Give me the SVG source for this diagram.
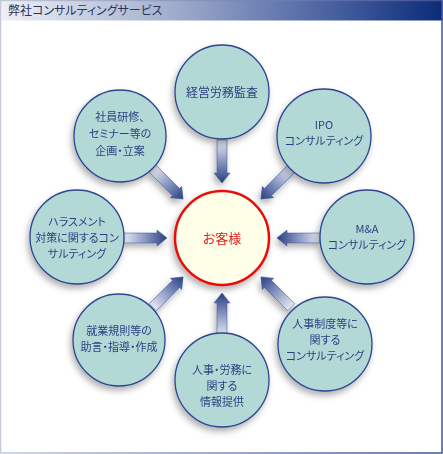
<svg xmlns="http://www.w3.org/2000/svg" width="443" height="454" viewBox="0 0 443 454">
<style>
  text { font-family: "Noto Sans CJK JP", "Noto Sans", sans-serif; font-feature-settings: "palt"; }
  .lbl { font-size: 11px; fill: #2b3f80; text-anchor: middle; }
  .node { fill: #b3d9d6; stroke: #2d4490; stroke-width: 1.3; }
  .arrow { fill: url(#arrGrad); stroke: #3a4f92; stroke-width: 0.5; }
</style>
<defs>
  <linearGradient id="barGrad" x1="0" y1="0" x2="1" y2="0">
    <stop offset="0" stop-color="#eef0f6"/>
    <stop offset="0.35" stop-color="#a9b5d1"/>
    <stop offset="0.7" stop-color="#546ba6"/>
    <stop offset="1" stop-color="#0b2b7a"/>
  </linearGradient>
  <linearGradient id="frameGrad" x1="0" y1="0" x2="1" y2="0">
    <stop offset="0" stop-color="#c3c9d8"/>
    <stop offset="0.5" stop-color="#7f8dba"/>
    <stop offset="1" stop-color="#3f5196"/>
  </linearGradient>
  <linearGradient id="arrGrad" gradientUnits="userSpaceOnUse" x1="-98" y1="0" x2="-55" y2="0">
    <stop offset="0" stop-color="#e6e9f2"/>
    <stop offset="0.5" stop-color="#8896c2"/>
    <stop offset="1" stop-color="#26407f"/>
  </linearGradient>
  <filter id="shadow" x="-30%" y="-30%" width="160%" height="160%">
    <feDropShadow dx="-2" dy="4" stdDeviation="3" flood-color="#000" flood-opacity="0.3"/>
  </filter>
  <path id="arr" d="M-98,-5 L-65,-5 L-65,-8 L-55,0 L-65,8 L-65,5 L-98,5 Z"/>
</defs>

<rect x="0" y="0" width="443" height="454" fill="#ffffff"/>
<g id="title">
  <rect x="0.5" y="0.5" width="442" height="20" fill="url(#barGrad)"/>
  <text x="8" y="15" style="font-size:12px;fill:#2a355e;">弊社コンサルティングサービス</text>
</g>
<rect x="0.5" y="0.5" width="441.5" height="452.5" fill="none" stroke="url(#frameGrad)" stroke-width="1.5"/>

<g id="connectors" filter="url(#shadow)">
  <use href="#arr" class="arrow" transform="translate(222,238) rotate(0)"/>
  <use href="#arr" class="arrow" transform="translate(222,238) rotate(45)"/>
  <use href="#arr" class="arrow" transform="translate(222,238) rotate(90)"/>
  <use href="#arr" class="arrow" transform="translate(222,238) rotate(135)"/>
  <use href="#arr" class="arrow" transform="translate(222,238) rotate(180)"/>
  <use href="#arr" class="arrow" transform="translate(222,238) rotate(225)"/>
  <use href="#arr" class="arrow" transform="translate(222,238) rotate(270)"/>
  <use href="#arr" class="arrow" transform="translate(222,238) rotate(315)"/>
</g>

<g id="center">
  <circle cx="222" cy="238" r="47" fill="#fffee6" stroke="#e81010" stroke-width="2.5" filter="url(#shadow)"/>
  <text x="222" y="243" style="font-size:13px;fill:#e02020;text-anchor:middle;">お客様</text>
</g>

<g id="n-top">
  <circle class="node" cx="222" cy="92" r="47" filter="url(#shadow)"/>
  <text class="lbl" x="222" y="97" style="font-size:12px;">経営労務監査</text>
</g>

<g id="n-topleft">
  <circle class="node" cx="120" cy="136" r="46" filter="url(#shadow)"/>
  <text class="lbl" x="120" y="121">社員研修、</text>
  <text class="lbl" x="120" y="138">セミナー等の</text>
  <text class="lbl" x="120" y="155">企画・立案</text>
</g>

<g id="n-topright">
  <circle class="node" cx="324" cy="136" r="47" filter="url(#shadow)"/>
  <text class="lbl" x="324" y="129">IPO</text>
  <text class="lbl" x="324" y="145">コンサルティング</text>
</g>

<g id="n-left">
  <circle class="node" cx="77" cy="237" r="47" filter="url(#shadow)"/>
  <text class="lbl" x="77" y="226">ハラスメント</text>
  <text class="lbl" x="77" y="242">対策に関するコン</text>
  <text class="lbl" x="77" y="258">サルティング</text>
</g>

<g id="n-right">
  <circle class="node" cx="367" cy="237" r="47" filter="url(#shadow)"/>
  <text class="lbl" x="367" y="233">M&amp;A</text>
  <text class="lbl" x="367" y="249">コンサルティング</text>
</g>

<g id="n-bottomleft">
  <circle class="node" cx="119" cy="340" r="46" filter="url(#shadow)"/>
  <text class="lbl" x="119" y="335">就業規則等の</text>
  <text class="lbl" x="119" y="351">助言・指導・作成</text>
</g>

<g id="n-bottomright">
  <circle class="node" cx="325" cy="344" r="47" filter="url(#shadow)"/>
  <text class="lbl" x="325" y="328">人事制度等に</text>
  <text class="lbl" x="325" y="344">関する</text>
  <text class="lbl" x="325" y="360">コンサルティング</text>
</g>

<g id="n-bottom">
  <circle class="node" cx="222" cy="380" r="47" filter="url(#shadow)"/>
  <text class="lbl" x="222" y="374">人事・労務に</text>
  <text class="lbl" x="222" y="390">関する</text>
  <text class="lbl" x="222" y="406">情報提供</text>
</g>
</svg>
